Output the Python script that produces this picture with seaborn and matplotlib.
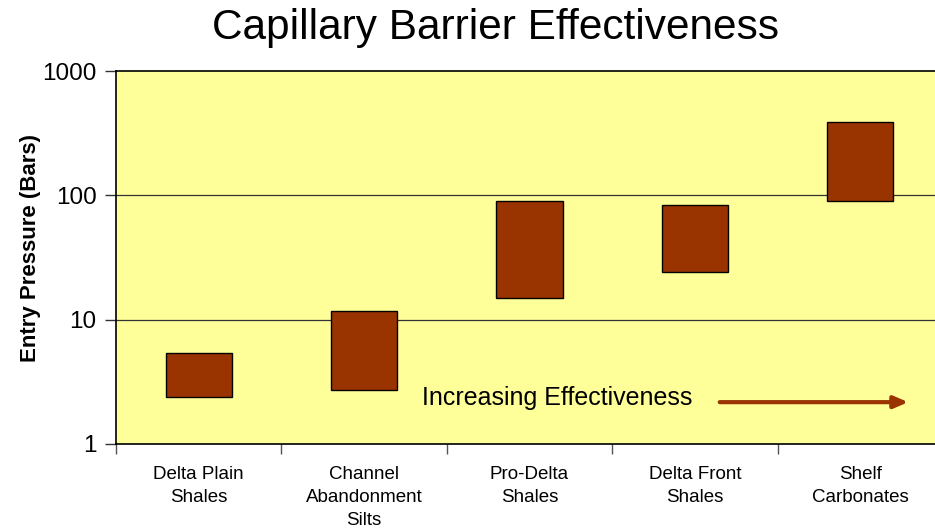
import numpy as np
import pandas as pd
import matplotlib
matplotlib.use("Agg")
import matplotlib.pyplot as plt
import seaborn as sns

# Seal types and their entry pressure range (bars)
categories = ["Delta Plain\nShales", "Channel\nAbandonment\nSilts", "Pro-Delta\nShales",
              "Delta Front\nShales", "Shelf\nCarbonates"]
pressure_low = [2.4, 2.7, 15.0, 24.0, 90.0]
pressure_high = [5.4, 11.7, 90.0, 84.0, 390.0]
y_ticks = [1, 10, 100, 1000]
y_tick_labels = ["1", "10", "100", "1000"]

df = pd.DataFrame({
    "seal": categories,
    "low": pressure_low,
    "span": np.array(pressure_high) - np.array(pressure_low),
})

sns.set_theme(style="white")
plt.rcParams["font.family"] = ["Liberation Sans", "DejaVu Sans"]
plt.rcParams["text.color"] = "black"

fig = plt.figure(figsize=(9.35, 5.32), dpi=100)
ax = fig.add_axes([116 / 935, 88 / 532, 827 / 935, 373 / 532])
ax.set_facecolor("#FFFF99")

sns.barplot(data=df, x="seal", y="span", bottom=df["low"].to_numpy(), ax=ax,
            color="#993300", saturation=1, width=0.4,
            edgecolor="black", linewidth=1.0)

ax.set_yscale("log")
ax.set_ylim(1, 1000)
ax.set_xlim(-0.5, 4.5)

# horizontal gridlines at each decade
for v in y_ticks[1:-1]:
    ax.axhline(v, color="#333333", linewidth=0.9, zorder=0.5)

ax.set_yticks(y_ticks)
ax.set_yticklabels(y_tick_labels, fontsize=17.5)
ax.yaxis.set_minor_locator(matplotlib.ticker.NullLocator())
ax.tick_params(axis="y", which="major", direction="out", length=8, width=1,
               color="#333333", left=True, pad=6, labelcolor="black")

# category boundaries as ticks, names centered between them
ax.set_xticks(np.arange(-0.5, 5.0, 1.0))
ax.set_xticklabels([""] * 6)
ax.set_xticks(np.arange(len(categories)), minor=True)
ax.set_xticklabels(categories, minor=True, fontsize=13.5, linespacing=1.45)
ax.tick_params(axis="x", which="major", direction="out", length=7, width=1,
               color="#555555", bottom=True)
ax.tick_params(axis="x", which="minor", length=0, pad=16, labelcolor="black")

ax.set_xlabel("")
ax.set_ylabel("Entry Pressure (Bars)", fontsize=16, fontweight="bold", color="black")
ax.yaxis.set_label_coords(-0.091, 0.525)

for side in ["left", "bottom", "top"]:
    ax.spines[side].set_visible(True)
    ax.spines[side].set_color("black")
    ax.spines[side].set_linewidth(1.2)
ax.spines["right"].set_visible(False)

ax.text(1.35, 2.33, "Increasing Effectiveness", fontsize=18, va="center", ha="left",
        color="black")
ax.annotate("", xy=(4.29, 2.17), xytext=(3.15, 2.17),
            arrowprops=dict(arrowstyle="-|>,head_length=0.7,head_width=0.3",
                            color="#993300", lw=3, shrinkA=0, shrinkB=0))

fig.text(0.530, 1 - 28 / 532, "Capillary Barrier Effectiveness", fontsize=30.5,
         ha="center", va="center", color="black")

fig.savefig("out.png", dpi=100, facecolor="white")
